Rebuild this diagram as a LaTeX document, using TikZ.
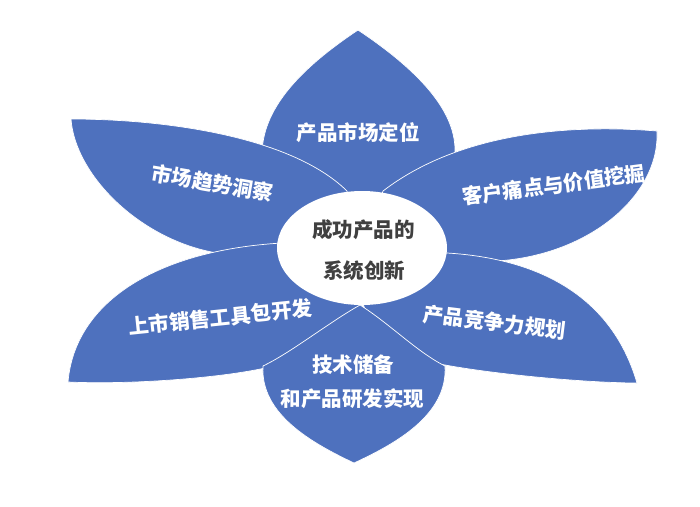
\documentclass[tikz,border=0pt]{standalone}
\usepackage{fontspec}
\usetikzlibrary{shapes.geometric}
\newfontfamily\cjk{Noto Sans CJK SC}
\definecolor{petal}{HTML}{4E71BE}
\definecolor{ctext}{HTML}{404040}
\begin{document}
\begin{tikzpicture}[x=1pt,y=-1pt,
  petalshape/.style={fill=petal, draw=white, line width=0.7pt, line join=round},
  ptext/.style={text=white, font=\cjk\bfseries\fontsize{20.5}{24}\selectfont, inner sep=0pt},
  ctxt/.style={text=ctext, font=\cjk\bfseries\fontsize{20.5}{24}\selectfont, inner sep=0pt}]
\useasboundingbox (0,0) rectangle (700,506);
% top petal
\path[petalshape] (360,200) .. controls (320,200) and (262,185) .. (262,155)
  .. controls (262,110) and (298,70) .. (358,30)
  .. controls (418,70) and (455,110) .. (455,150)
  .. controls (455,185) and (400,200) .. cycle;
% upper-left petal
\path[petalshape] (71,119) .. controls (160,119) and (290,135) .. (347,191)
  -- (362,250) .. controls (300,255) and (250,258) .. (217,253)
  .. controls (140,240) and (75,175) .. cycle;
% upper-right petal
\path[petalshape] (657,131) .. controls (570,124) and (460,132) .. (383,191)
  -- (362,250) .. controls (420,265) and (460,265) .. (497,261)
  .. controls (590,255) and (660,195) .. cycle;
% lower-left petal
\path[petalshape] (68,382) .. controls (75,300) and (160,250) .. (282,243)
  -- (362,250) .. controls (375,330) and (330,355) .. (265,368)
  .. controls (220,378) and (130,385) .. cycle;
% lower-right petal
\path[petalshape] (637,383) .. controls (610,290) and (530,258) .. (447,253)
  -- (362,250) .. controls (349,330) and (395,358) .. (445,365)
  .. controls (500,375) and (590,383) .. cycle;
% bottom petal
\path[petalshape] (360,305) .. controls (328,323) and (292,352) .. (263,366)
  .. controls (260,415) and (314,444) .. (354,463)
  .. controls (395,444) and (448,415) .. (445,366)
  .. controls (417,352) and (390,324) .. cycle;
% centre
\node[ellipse, fill=white, minimum width=170pt, minimum height=114pt, inner sep=0pt] (c) at (362,248) {};
\node[ctxt] (c1) at (363.5,230) {成功产品的};
\node[ctxt] (c2) at (364,271) {系统创新};
% petal texts
\node[ptext] (t1) at (358,133) {产品市场定位};
\node[ptext, rotate=-9.8] (t2) at (212.7,183) {市场趋势洞察};
\node[ptext, rotate=7.6] (t3) at (553.5,185) {客户痛点与价值挖掘};
\node[ptext, rotate=5.9] (t4) at (220.3,317.3) {上市销售工具包开发};
\node[ptext, rotate=-7] (t5) at (494.6,322.5) {产品竞争力规划};
\node[ptext] (t6) at (353.3,365) {技术储备};
\node[ptext] (t7) at (352.5,398.3) {和产品研发实现};
\end{tikzpicture}
\end{document}
